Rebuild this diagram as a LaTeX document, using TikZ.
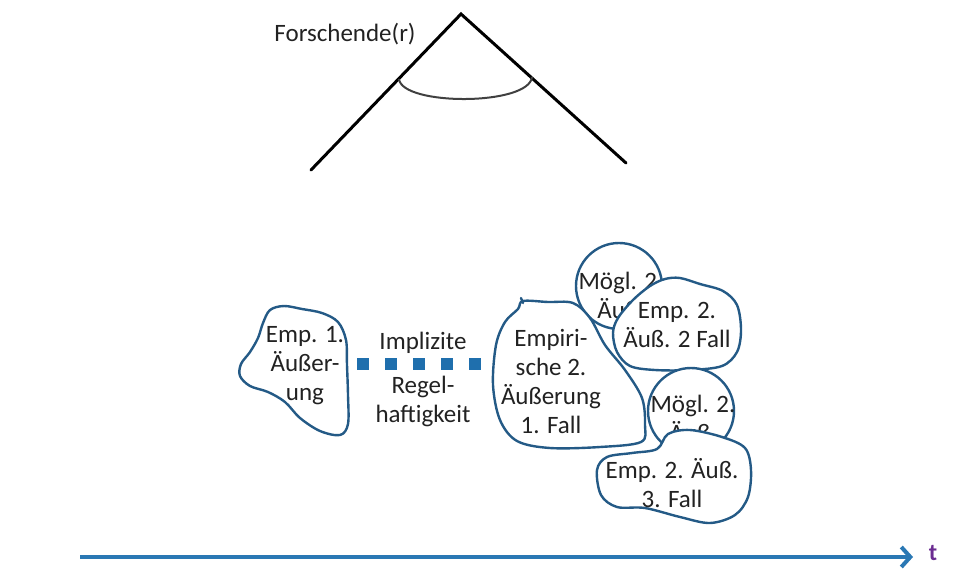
\documentclass[tikz,border=0pt]{standalone}
\usepackage{fontspec}
\setmainfont{Carlito}
\usetikzlibrary{arrows.meta}
\definecolor{blobline}{HTML}{245A86}
\definecolor{dashblue}{HTML}{1F6FAD}
\definecolor{axisblue}{HTML}{2A78B4}
\definecolor{tpurple}{HTML}{6B2C91}
\definecolor{txt}{HTML}{222222}
\begin{document}
\begin{tikzpicture}[x=1pt,y=-1pt,
  blob/.style={draw=blobline,line width=2.4pt,fill=white,line join=round},
  lbl/.style={align=center,text=txt,font=\fontsize{25}{29}\selectfont,inner sep=0pt},
  conearm/.style={draw=black,line width=3pt,line cap=round,line join=miter},
  axis/.style={draw=axisblue,line width=4.5pt,-{Straight Barb[length=9pt,width=20pt,line width=4pt]}},
  rule/.style={draw=dashblue,line width=12pt,dash pattern=on 12pt off 16pt}]
\useasboundingbox (0,0) rectangle (970,574);

% viewer's cone with its field of view
\node[lbl,anchor=center] (f) at (345,34) {Forschende(r)};
\coordinate (apex) at (461,14);
\coordinate (cl) at (311,170);
\coordinate (cr) at (626,163);
\draw[conearm] (cl) -- (apex) -- (cr);
\coordinate (al) at (399,79);
\coordinate (ar) at (532,77);
\draw[draw=black!75,line width=2pt] (al) .. controls (402,106) and (529,106) .. (ar);

% first empirical utterance
\draw[blob] plot[smooth cycle,tension=0.55] coordinates {
  (270,310) (284,306) (302,309) (322,313) (338,322) (346,340) (347,365)
  (348,395) (348,424) (340,435) (320,431) (300,418) (285,402) (268,392)
  (250,386) (240,376) (241,364) (250,352) (258,338) (263,323)};
\node[lbl] (e1) at (305,366) {Emp. 1.\\Äußer-\\ung};

% implicit regularity between the utterances
\coordinate (dl) at (357,364);
\coordinate (dr) at (481,364);
\draw[rule] (dl) -- (dr);
\node[lbl] (im) at (423,343) {Implizite};
\node[lbl] (rg) at (423,401) {Regel-\\haftigkeit};

% possible second utterance (upper)
\draw[blob] (619,286) circle[radius=43];
\node[lbl] (m1) at (621,295) {Mögl. 2.\\Äuß.};

% second utterance, case 1
\draw[blob] plot[smooth cycle,tension=0.55] coordinates {
  (523,301) (548,302) (573,303) (590,318) (605,345) (625,370) (642,398)
  (645,425) (641,442) (600,447) (550,448) (517,441) (500,420) (493,385)
  (496,345) (505,322) (518,309)};
\draw[draw=blobline,line width=2.4pt,line cap=round] (521,298) -- (523,303);
\node[lbl] (e2) at (551,381) {Empiri-\\sche 2.\\Äußerung\\1. Fall};

% second utterance, case 2
\draw[blob] plot[smooth cycle,tension=0.55] coordinates {
  (650,286) (665,279) (680,278) (700,284) (723,291) (737,305) (741,330)
  (737,352) (722,366) (690,370) (655,370) (630,366) (617,352) (613,333)
  (618,318) (633,300)};
\node[lbl] (e22) at (677,325) {Emp. 2.\\Äuß. 2 Fall};

% possible second utterance (lower)
\draw[blob] (691,411) circle[radius=43];
\node[lbl] (m2) at (693,418) {Mögl. 2.\\Äuß.};

% second utterance, case 3
\draw[blob] plot[smooth cycle,tension=0.55] coordinates {
  (668,434) (690,430) (722,437) (745,448) (751,470) (748,497) (735,515)
  (710,523) (680,517) (645,508) (617,507) (601,495) (597,470) (607,457)
  (632,453) (657,449)};
\node[lbl] (e3) at (672,483) {Emp. 2. Äuß.\\3. Fall};

% time axis
\coordinate (t0) at (80,557);
\coordinate (t1) at (913,557);
\draw[axis] (t0) -- (t1);
\node[text=tpurple,font=\fontsize{24}{26}\selectfont\bfseries,inner sep=0pt] (t) at (933,553) {t};
\end{tikzpicture}
\end{document}
